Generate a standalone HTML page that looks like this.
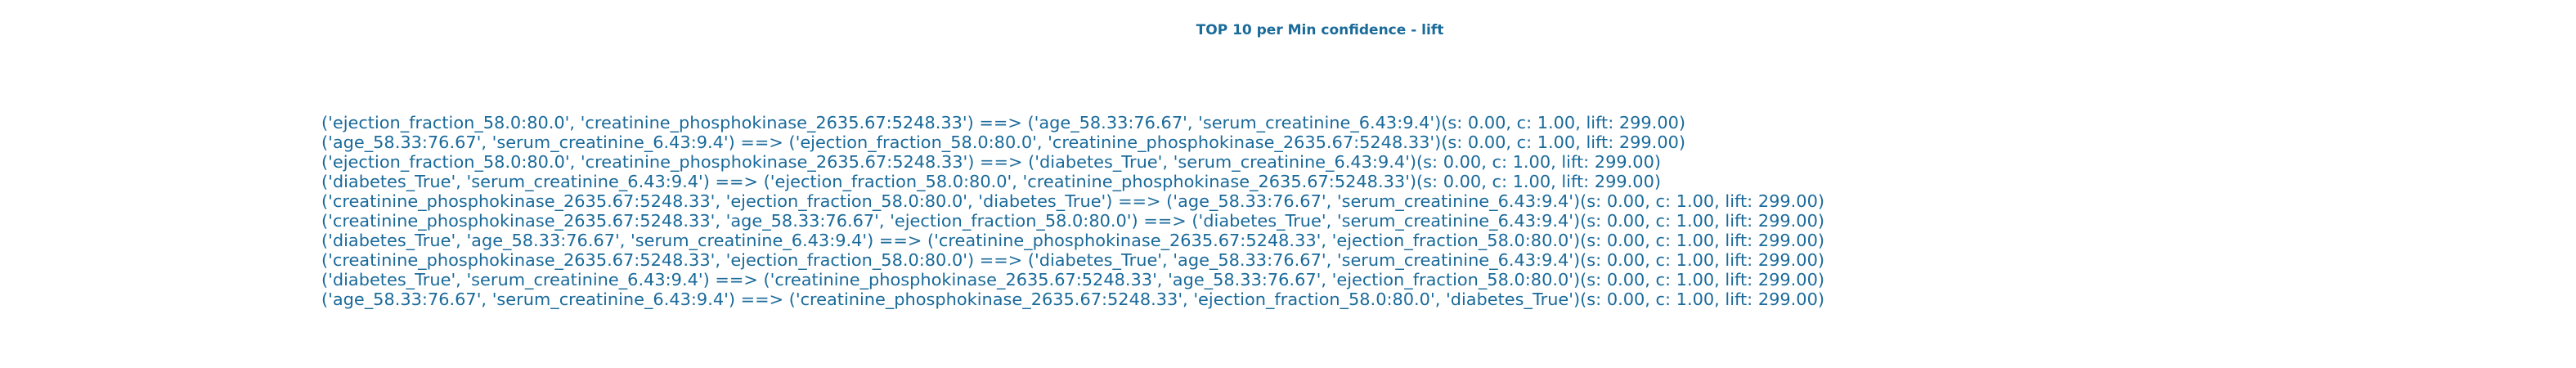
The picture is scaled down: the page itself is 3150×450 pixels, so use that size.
<!DOCTYPE html>
<html><head><meta charset="utf-8"><style>
html,body{margin:0;padding:0;background:#fff;}
svg{display:block;}
text{font-family:"DejaVu Sans","Liberation Sans",sans-serif;fill:#1a6a9a;}
</style></head><body>
<svg width="3150" height="450" viewBox="0 0 3150 450">
<text x="1614" y="42" text-anchor="middle" font-size="17" font-weight="bold">TOP 10 per Min confidence - lift</text>
<g id="rules"></g>
</svg>
<script>
const rules = [
"('ejection_fraction_58.0:80.0', 'creatinine_phosphokinase_2635.67:5248.33') ==> ('age_58.33:76.67', 'serum_creatinine_6.43:9.4')(s: 0.00, c: 1.00, lift: 299.00)",
"('age_58.33:76.67', 'serum_creatinine_6.43:9.4') ==> ('ejection_fraction_58.0:80.0', 'creatinine_phosphokinase_2635.67:5248.33')(s: 0.00, c: 1.00, lift: 299.00)",
"('ejection_fraction_58.0:80.0', 'creatinine_phosphokinase_2635.67:5248.33') ==> ('diabetes_True', 'serum_creatinine_6.43:9.4')(s: 0.00, c: 1.00, lift: 299.00)",
"('diabetes_True', 'serum_creatinine_6.43:9.4') ==> ('ejection_fraction_58.0:80.0', 'creatinine_phosphokinase_2635.67:5248.33')(s: 0.00, c: 1.00, lift: 299.00)",
"('creatinine_phosphokinase_2635.67:5248.33', 'ejection_fraction_58.0:80.0', 'diabetes_True') ==> ('age_58.33:76.67', 'serum_creatinine_6.43:9.4')(s: 0.00, c: 1.00, lift: 299.00)",
"('creatinine_phosphokinase_2635.67:5248.33', 'age_58.33:76.67', 'ejection_fraction_58.0:80.0') ==> ('diabetes_True', 'serum_creatinine_6.43:9.4')(s: 0.00, c: 1.00, lift: 299.00)",
"('diabetes_True', 'age_58.33:76.67', 'serum_creatinine_6.43:9.4') ==> ('creatinine_phosphokinase_2635.67:5248.33', 'ejection_fraction_58.0:80.0')(s: 0.00, c: 1.00, lift: 299.00)",
"('creatinine_phosphokinase_2635.67:5248.33', 'ejection_fraction_58.0:80.0') ==> ('diabetes_True', 'age_58.33:76.67', 'serum_creatinine_6.43:9.4')(s: 0.00, c: 1.00, lift: 299.00)",
"('diabetes_True', 'serum_creatinine_6.43:9.4') ==> ('creatinine_phosphokinase_2635.67:5248.33', 'age_58.33:76.67', 'ejection_fraction_58.0:80.0')(s: 0.00, c: 1.00, lift: 299.00)",
"('age_58.33:76.67', 'serum_creatinine_6.43:9.4') ==> ('creatinine_phosphokinase_2635.67:5248.33', 'ejection_fraction_58.0:80.0', 'diabetes_True')(s: 0.00, c: 1.00, lift: 299.00)"
];
const lineWidths = [1668,1668,1638,1638,1838,1838,1838,1838,1838,1838];
const g = document.getElementById('rules');
const NS = 'http://www.w3.org/2000/svg';
rules.forEach((r,i)=>{
  const t = document.createElementNS(NS,'text');
  t.setAttribute('x', 393);
  t.setAttribute('y', 157 + i*24);
  t.setAttribute('font-size', 20);
  t.setAttribute('textLength', lineWidths[i]);
  t.setAttribute('lengthAdjust', 'spacingAndGlyphs');
  t.textContent = r;
  
  
  g.appendChild(t);
});
</script>
</body></html>
